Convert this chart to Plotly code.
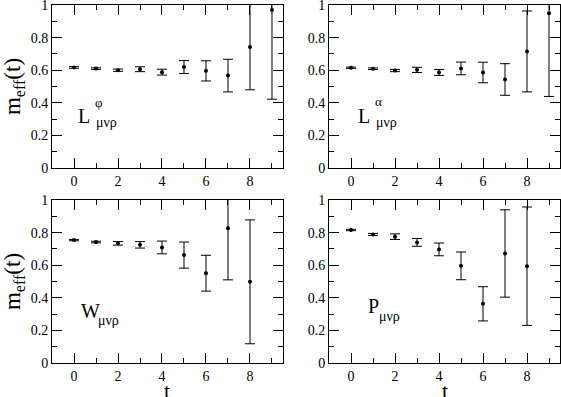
import plotly.graph_objects as go
from plotly.subplots import make_subplots

# ---- data ----
t_top = [0, 1, 2, 3, 4, 5, 6, 7, 8, 9]
t_bot = [0, 1, 2, 3, 4, 5, 6, 7, 8]

lphi_val = [0.617, 0.610, 0.600, 0.606, 0.588, 0.619, 0.596, 0.567, 0.742, 0.969]
lphi_err = [0.005, 0.005, 0.007, 0.015, 0.018, 0.040, 0.062, 0.100, 0.262, 0.547]

lalpha_val = [0.615, 0.609, 0.598, 0.602, 0.586, 0.611, 0.586, 0.543, 0.715, 0.949]
lalpha_err = [0.004, 0.005, 0.007, 0.016, 0.018, 0.039, 0.063, 0.097, 0.248, 0.510]

w_val = [0.754, 0.742, 0.734, 0.725, 0.709, 0.662, 0.551, 0.826, 0.498]
w_err = [0.004, 0.005, 0.011, 0.020, 0.039, 0.080, 0.110, 0.316, 0.380]

p_val = [0.816, 0.789, 0.775, 0.740, 0.697, 0.596, 0.363, 0.672, 0.594]
p_err = [0.004, 0.006, 0.017, 0.024, 0.039, 0.085, 0.105, 0.268, 0.363]

x_ticks = [0, 2, 4, 6, 8]
y_ticks = [0, 0.2, 0.4, 0.6, 0.8, 1]
y_tick_text = ["0", "0.2", "0.4", "0.6", "0.8", "1"]

FONT = "Liberation Serif, Times New Roman, Times, serif"

fig = make_subplots(rows=2, cols=2)

panels = [
    (1, 1, t_top, lphi_val, lphi_err),
    (1, 2, t_top, lalpha_val, lalpha_err),
    (2, 1, t_bot, w_val, w_err),
    (2, 2, t_bot, p_val, p_err),
]
for r, c, t, v, e in panels:
    fig.add_trace(
        go.Scatter(
            x=t, y=v, mode="markers",
            marker=dict(color="black", size=4),
            error_y=dict(type="data", array=e, visible=True,
                         color="black", thickness=1, width=5),
            showlegend=False,
        ),
        row=r, col=c,
    )

xdom = {1: [0.0, 0.4547], 2: [0.5453, 1.0]}
ydom = {1: [0.5447, 1.0], 2: [0.0, 0.4553]}

for r in (1, 2):
    for c in (1, 2):
        fig.update_xaxes(
            row=r, col=c, domain=xdom[c], range=[-1, 9.5], automargin=False,
            tickmode="array", tickvals=x_ticks, ticklabeloverflow="allow",
            ticks="inside", ticklen=10, tickwidth=1, tickcolor="black",
            minor=dict(dtick=1, tick0=0, ticks="inside", ticklen=5,
                       tickwidth=1, tickcolor="black", showgrid=False),
            showline=True, linecolor="black", linewidth=1, mirror="ticks",
            showgrid=False, zeroline=False,
            tickfont=dict(family=FONT, size=14, color="black"),
        )
        fig.update_yaxes(
            row=r, col=c, domain=ydom[r], range=[0, 1], automargin=False,
            tickmode="array", tickvals=y_ticks, ticktext=y_tick_text,
            ticklabeloverflow="allow",
            ticks="inside", ticklen=10, tickwidth=1, tickcolor="black",
            minor=dict(dtick=0.1, tick0=0, ticks="inside", ticklen=5,
                       tickwidth=1, tickcolor="black", showgrid=False),
            showline=True, linecolor="black", linewidth=1, mirror="ticks",
            showgrid=False, zeroline=False,
            tickfont=dict(family=FONT, size=14, color="black"),
        )

for r in (1, 2):
    fig.update_yaxes(row=r, col=1,
                     title=dict(text="m<sub>eff</sub>(t)",
                                font=dict(family=FONT, size=23, color="black"),
                                standoff=7))

# x-axis titles "t" below the bottom panels
for xr in ("x3", "x4"):
    fig.add_annotation(text="t", xref=f"{xr} domain", yref="paper",
                       x=0.5, y=-0.078, xanchor="center", yanchor="middle",
                       showarrow=False, borderpad=0,
                       font=dict(family=FONT, size=22, color="black"))

# panel labels: (xref, yref, main, sup, sub, x_main, y_main, x_sup, y_sup, x_sub, y_sub)
labels = [
    ("x", "y", "L", "φ", "μνρ", 0.108, 0.317, 0.182, 0.402, 0.186, 0.282),
    ("x2", "y2", "L", "α", "μνρ", 0.121, 0.317, 0.195, 0.408, 0.199, 0.282),
    ("x3", "y3", "W", None, "μνρ", 0.121, 0.316, None, None, 0.195, 0.258),
    ("x4", "y4", "P", None, "μνρ", 0.165, 0.347, None, None, 0.212, 0.288),
]
for xr, yr, main, sup, sub, xm, ym, xs, ys, xb, yb in labels:
    fig.add_annotation(text=main, xref=f"{xr} domain", yref=f"{yr} domain",
                       x=xm, y=ym, xanchor="left", yanchor="middle",
                       showarrow=False, borderpad=0,
                       font=dict(family=FONT, size=20, color="black"))
    if sup:
        fig.add_annotation(text=sup, xref=f"{xr} domain", yref=f"{yr} domain",
                           x=xs, y=ys, xanchor="left", yanchor="middle",
                           showarrow=False, borderpad=0,
                           font=dict(family=FONT, size=13, color="black"))
    fig.add_annotation(text=sub, xref=f"{xr} domain", yref=f"{yr} domain",
                       x=xb, y=yb, xanchor="left", yanchor="middle",
                       showarrow=False, borderpad=0,
                       font=dict(family=FONT, size=14, color="black"))

fig.update_layout(
    width=561, height=397,
    margin=dict(l=52, r=1, t=5, b=34),
    paper_bgcolor="white", plot_bgcolor="white",
    font=dict(family=FONT, color="black"),
)

fig.write_html(
    "out.html",
    config={"displayModeBar": False},
    post_script="document.body.style.margin='0';document.body.style.overflow='hidden';",
)
